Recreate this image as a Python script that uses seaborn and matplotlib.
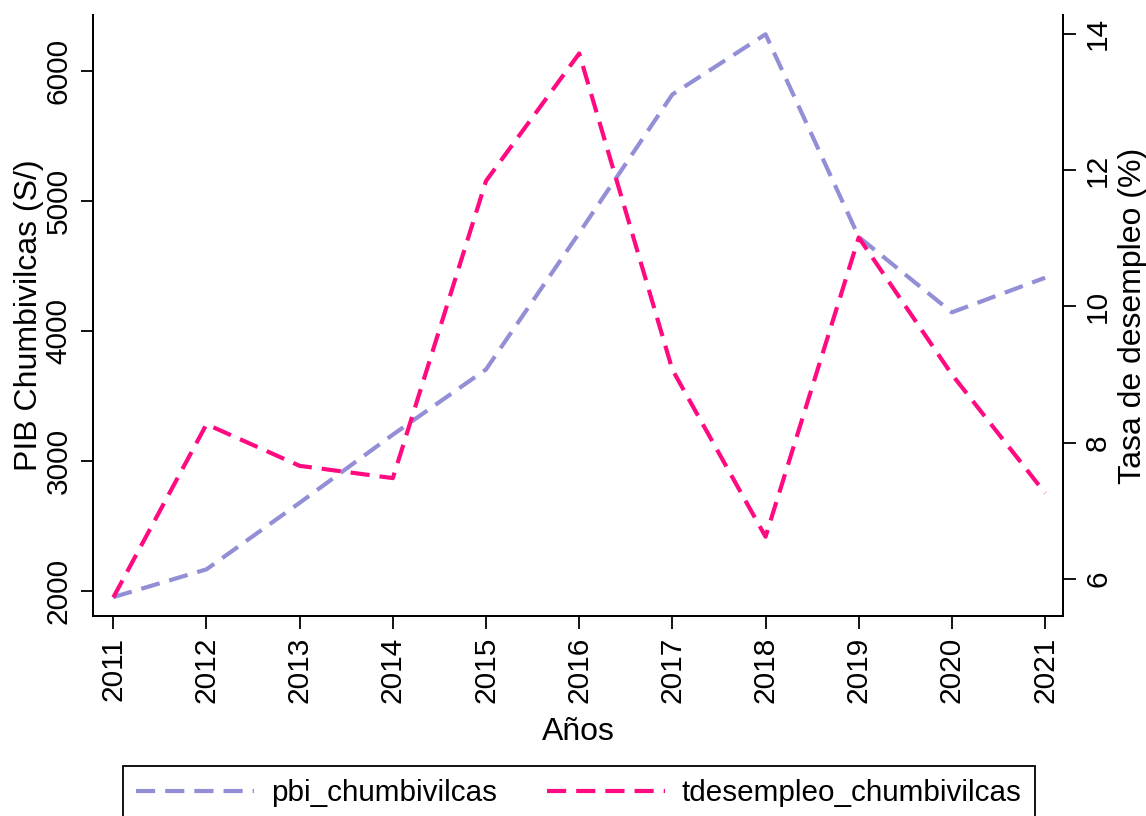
import pandas as pd
import matplotlib
matplotlib.use("Agg")
import matplotlib.pyplot as plt
import seaborn as sns

# datos
anios = [2011, 2012, 2013, 2014, 2015, 2016, 2017, 2018, 2019, 2020, 2021]
pbi_chumbivilcas = [1950, 2164, 2676, 3200, 3702, 4752, 5817, 6280, 4721, 4141, 4407]
tdesempleo_chumbivilcas = [5.73, 8.27, 7.66, 7.48, 11.84, 13.71, 9.07, 6.62, 11.01, 9.00, 7.26]
ticks_pib = [2000, 3000, 4000, 5000, 6000]
ticks_tasa = [6, 8, 10, 12, 14]

df = pd.DataFrame({"anio": anios,
                   "pbi": pbi_chumbivilcas,
                   "tdes": tdesempleo_chumbivilcas})

sns.set_style("white")
plt.rcParams['font.family'] = ['Liberation Sans', 'DejaVu Sans']
plt.rcParams['text.color'] = 'black'
plt.rcParams['axes.labelcolor'] = 'black'

col_pbi = '#938fd6'
col_tdes = '#ff0a80'
guiones = (0, (4.6, 2.4))

fig = plt.figure(figsize=(11.46, 8.16), dpi=100)
ax = fig.add_axes([0.0814, 0.2451, 0.8464, 0.7365])
ax2 = ax.twinx()

sns.lineplot(data=df, x="anio", y="pbi", ax=ax, color=col_pbi,
             linewidth=3.0, linestyle=guiones, legend=False)
sns.lineplot(data=df, x="anio", y="tdes", ax=ax2, color=col_tdes,
             linewidth=3.0, linestyle=guiones, legend=False)

ax.set_xlim(2010.785, 2021.195)
ax.set_ylim(1805, 6428)
ax2.set_ylim(5.457, 14.274)

ax.set_xticks(anios)
ax.set_xticklabels([str(a) for a in anios], rotation=90)
ax.set_yticks(ticks_pib)
ax.set_yticklabels([str(t) for t in ticks_pib], rotation=90, va='center')
ax2.set_yticks(ticks_tasa)
ax2.set_yticklabels([str(t) for t in ticks_tasa], rotation=90, va='center')

for a in (ax, ax2):
    a.spines['top'].set_visible(False)
    for s in a.spines.values():
        s.set_linewidth(1.4)
        s.set_color('black')
    a.tick_params(axis='both', direction='out', length=9, width=1.3,
                  labelsize=21.5, colors='black', pad=6)
ax.tick_params(left=True, bottom=True)
ax2.tick_params(right=True)

ax.set_xlabel('Años', fontsize=23, labelpad=10)
ax.set_ylabel('PIB Chumbivilcas (S/)', fontsize=23, labelpad=0)
ax2.set_ylabel('Tasa de desempleo (%)', fontsize=23, labelpad=4)
ax.grid(False)
ax2.grid(False)

h1 = plt.Line2D([], [], color=col_pbi, linewidth=3.0, linestyle=guiones)
h2 = plt.Line2D([], [], color=col_tdes, linewidth=3.0, linestyle=guiones)
leg = fig.legend([h1, h2], ['pbi_chumbivilcas', 'tdesempleo_chumbivilcas'],
                 loc='upper center', bbox_to_anchor=(0.505, 0.0613), ncol=2,
                 fontsize=21.3, frameon=True, fancybox=False, framealpha=1,
                 edgecolor='black', handlelength=4.0, handletextpad=0.55,
                 columnspacing=1.7, borderpad=0.45, borderaxespad=0)
leg.get_frame().set_linewidth(1.3)

fig.savefig('out.png', dpi=100)
